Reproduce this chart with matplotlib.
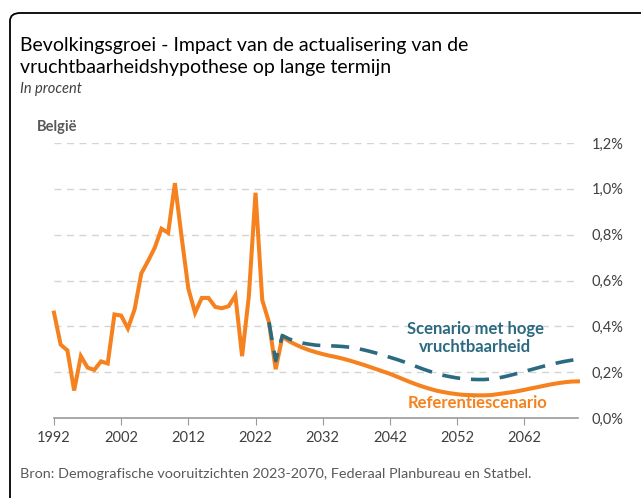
import matplotlib
matplotlib.use("Agg")
from matplotlib import pyplot as plt
from matplotlib.patches import FancyBboxPatch
from matplotlib.ticker import FuncFormatter

# Referentiescenario: observed 1992-2023, projection from 2024
ref_years = list(range(1992, 2071))
ref_values = [0.46, 0.32, 0.295, 0.12, 0.27, 0.22, 0.21, 0.247, 0.238, 0.452,
              0.447, 0.391, 0.474, 0.631, 0.685, 0.743, 0.826, 0.808, 1.025, 0.79,
              0.565, 0.459, 0.524, 0.524, 0.485, 0.479, 0.488, 0.535, 0.27, 0.53,
              0.983, 0.515, 0.418, 0.213, 0.355, 0.335, 0.32, 0.307, 0.296, 0.287,
              0.279, 0.272, 0.266, 0.259, 0.251, 0.242, 0.233, 0.223, 0.213, 0.203,
              0.193, 0.181, 0.169, 0.157, 0.146, 0.136, 0.127, 0.119, 0.113, 0.108,
              0.104, 0.101, 0.1, 0.099, 0.099, 0.1, 0.104, 0.108, 0.112, 0.117,
              0.123, 0.129, 0.135, 0.141, 0.147, 0.152, 0.156, 0.159, 0.16]

# Scenario met hoge vruchtbaarheid
high_years = list(range(2024, 2071))
high_values = [0.418, 0.25, 0.36, 0.345, 0.335, 0.327, 0.322, 0.318, 0.316, 0.315,
               0.314, 0.312, 0.309, 0.304, 0.298, 0.291, 0.283, 0.274, 0.265, 0.256,
               0.246, 0.235, 0.224, 0.213, 0.203, 0.194, 0.186, 0.18, 0.175, 0.171,
               0.169, 0.168, 0.168, 0.17, 0.174, 0.18, 0.187, 0.195, 0.203, 0.211,
               0.219, 0.227, 0.234, 0.241, 0.247, 0.252, 0.256]

x_ticks = [1992, 2002, 2012, 2022, 2032, 2042, 2052, 2062]
y_ticks = [0.0, 0.2, 0.4, 0.6, 0.8, 1.0, 1.2]

orange = "#f5821f"
teal = "#2b6a80"
grey_text = "#404040"

plt.rcParams['font.family'] = ['Lato', 'DejaVu Sans']

fig = plt.figure(figsize=(6.41, 4.98), dpi=100)
ax = fig.add_axes([0.0842, 0.1606, 0.8175, 0.5522])

# frame round the chart (only left and top edge fall inside the picture)
frame = FancyBboxPatch((10 / 641, -0.2), 1.2, 0.2 + 1 - 13 / 498,
                       boxstyle="round,pad=0,rounding_size=0.016",
                       transform=fig.transFigure, fill=False,
                       edgecolor="black", linewidth=1.3, zorder=0)
fig.patches.append(frame)

ax.plot(ref_years, ref_values, color=orange, linewidth=2.9,
        solid_joinstyle="miter", zorder=3, clip_on=False)
ax.plot(high_years, high_values, color=teal, linewidth=2.6,
        dashes=(5, 3), zorder=4, clip_on=False)

ax.set_xlim(1992, 2070)
ax.set_ylim(0, 1.2)
ax.set_xticks(x_ticks)
ax.set_yticks(y_ticks)
ax.yaxis.tick_right()
ax.yaxis.set_major_formatter(FuncFormatter(lambda v, p: ("%.1f%%" % v).replace(".", ",")))
ax.tick_params(axis="y", length=0, pad=10, labelsize=10.5, labelcolor=grey_text)
ax.tick_params(axis="x", length=5, color="#999999", labelsize=10.5,
               labelcolor=grey_text, pad=4)

for s in ["top", "left", "right"]:
    ax.spines[s].set_visible(False)
ax.spines["bottom"].set_color("#999999")
ax.spines["bottom"].set_linewidth(1.2)

for v in y_ticks[1:]:
    ax.axhline(v, color="#d4d4d4", linewidth=1.0, dashes=(5, 4), zorder=1)

ax.text(2054.7, 0.35, "Scenario met hoge\nvruchtbaarheid", color=teal,
        fontsize=12, fontweight="bold", ha="center", va="center", linespacing=1.15)
ax.text(2055, 0.066, "Referentiescenario", color=orange,
        fontsize=12, fontweight="bold", ha="center", va="center")

fig.text(20 / 641, 1 - 56.5 / 498,
         "Bevolkingsgroei - Impact van de actualisering van de\nvruchtbaarheidshypothese op lange termijn",
         fontsize=14, color="black", ha="left", va="center", linespacing=1.32)
fig.text(20 / 641, 1 - 89 / 498, "In procent", fontsize=10.5, style="italic",
         color=grey_text, ha="left", va="center")
fig.text(37 / 641, 1 - 127 / 498, "België", fontsize=10.5, fontweight="bold",
         color="#595959", ha="left", va="center")
fig.text(20 / 641, 1 - 474 / 498,
         "Bron: Demografische vooruitzichten 2023-2070, Federaal Planbureau en Statbel.",
         fontsize=10.4, color="#595959", ha="left", va="center")

plt.savefig("out.png", dpi=100)
